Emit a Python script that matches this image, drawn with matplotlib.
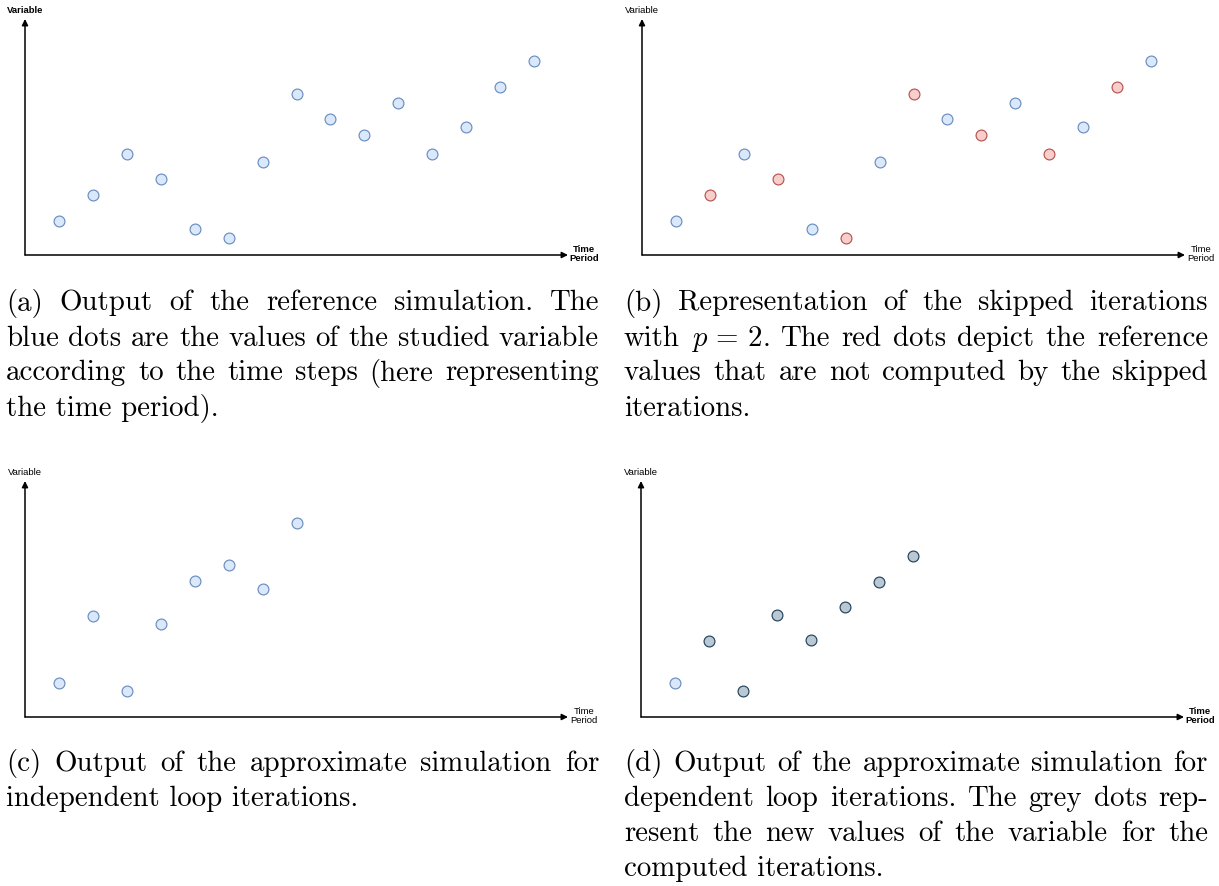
#!/usr/bin/env python

'''
    Reference, skipped and approximate simulation outputs (four panels)
'''

import matplotlib
matplotlib.use('Agg')
import matplotlib.pyplot as plt

W, H, DPI = 1219, 886, 100

# values (time step, variable)
steps_ref    = list(range(1, 16))
values_ref   = [34, 60, 101, 76, 26, 17, 93, 161, 136, 120, 152, 101, 128, 168, 194]
skipped      = [2, 4, 6, 8, 10, 12, 14]
steps_approx = list(range(1, 9))
values_indep = [34, 101, 26, 93, 136, 152, 128, 194]
values_dep   = [34, 76, 26, 102, 77, 110, 135, 161]
computed_dep = [2, 3, 4, 5, 6, 7, 8]

BLUE = ('#dae8fc', '#6c8ebf')
RED  = ('#f8cecc', '#b85450')
GREY = ('#bac8d3', '#23445d')

captions = {
    'a': ['(a) Output of the reference simulation. The',
          'blue dots are the values of the studied variable',
          'according to the time steps (here representing',
          'the time period).'],
    'b': ['(b) Representation of the skipped iterations',
          r'with $p\,=\,2$. The red dots depict the reference',
          'values that are not computed by the skipped',
          'iterations.'],
    'c': ['(c) Output of the approximate simulation for',
          'independent loop iterations.'],
    'd': ['(d) Output of the approximate simulation for',
          'dependent loop iterations. The grey dots rep-',
          'resent the new values of the variable for the',
          'computed iterations.'],
}

plt.rcParams['mathtext.fontset'] = 'cm'

fig = plt.figure(figsize=(W/DPI, H/DPI), dpi=DPI)
fig.patch.set_facecolor('white')


def panel(x0, y0, bold_var, bold_time):
    ax = fig.add_axes([x0/W, 1 - y0/H, 543/W, 236/H])
    ax.set_xlim(0, 16)
    ax.set_ylim(0, 236)
    ax.axis('off')
    arrow = dict(arrowstyle='-|>', color='black', lw=1.1, mutation_scale=9,
                 shrinkA=0, shrinkB=0)
    ax.annotate('', xy=(1, 0), xytext=(0, 0), xycoords='axes fraction',
                arrowprops=arrow, annotation_clip=False)
    ax.annotate('', xy=(0, 1), xytext=(0, 0), xycoords='axes fraction',
                arrowprops=arrow, annotation_clip=False)
    ax.text(0, 1.034, 'Variable', transform=ax.transAxes, ha='center', va='center',
            fontsize=6.8, family='Liberation Sans',
            fontweight='bold' if bold_var else 'normal')
    ax.text(1.029, 0.004, 'Time\nPeriod', transform=ax.transAxes, ha='center',
            va='center', multialignment='center', linespacing=1.05, fontsize=6.8,
            family='Liberation Sans', fontweight='bold' if bold_time else 'normal')
    return ax


def dots(ax, xs, ys, style):
    ax.plot(xs, ys, 'o', ms=7.8, mfc=style[0], mec=style[1], mew=0.85, clip_on=False)


def caption(lines, x0, x1, y_first, step=35, size=20.8):
    renderer = fig.canvas.get_renderer()
    for i, line in enumerate(lines):
        y = 1 - (y_first + i*step)/H
        if i == len(lines) - 1:
            fig.text(x0/W, y, line, family='cmr10', fontsize=size, va='baseline')
            continue
        words = line.split(' ')
        texts = [fig.text(0, y, w, family='cmr10', fontsize=size, va='baseline')
                 for w in words]
        widths = [t.get_window_extent(renderer).width for t in texts]
        gap = (x1 - x0 - sum(widths)) / (len(words) - 1)
        x = x0
        for t, w in zip(texts, widths):
            t.set_x(x/W)
            x += w + gap


# (a) reference simulation
ax = panel(25, 255, True, True)
dots(ax, steps_ref, values_ref, BLUE)

# (b) skipped iterations, p = 2
ax = panel(642, 255, False, False)
kept = [i for i in range(len(steps_ref)) if steps_ref[i] not in skipped]
gone = [i for i in range(len(steps_ref)) if steps_ref[i] in skipped]
dots(ax, [steps_ref[i] for i in kept], [values_ref[i] for i in kept], BLUE)
dots(ax, [steps_ref[i] for i in gone], [values_ref[i] for i in gone], RED)

# (c) independent loop iterations
ax = panel(25, 717, False, False)
dots(ax, steps_approx, values_indep, BLUE)

# (d) dependent loop iterations
ax = panel(641, 717, False, True)
first = [i for i in range(len(steps_approx)) if steps_approx[i] not in computed_dep]
new   = [i for i in range(len(steps_approx)) if steps_approx[i] in computed_dep]
dots(ax, [steps_approx[i] for i in first], [values_dep[i] for i in first], BLUE)
dots(ax, [steps_approx[i] for i in new], [values_dep[i] for i in new], GREY)

caption(captions['a'], 6, 599, 310.5)
caption(captions['b'], 624, 1208, 310.5)
caption(captions['c'], 6, 599, 771)
caption(captions['d'], 624, 1208, 771)

fig.savefig('out.png', dpi=DPI)
